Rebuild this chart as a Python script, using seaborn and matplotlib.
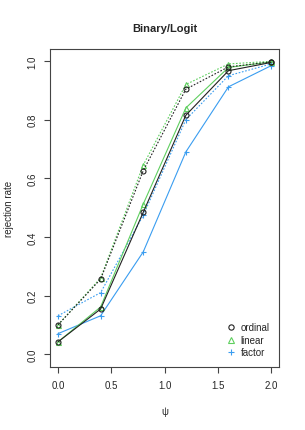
import numpy as np
import pandas as pd
import seaborn as sns
import matplotlib.pyplot as plt
from matplotlib.lines import Line2D

psi = [0.0, 0.4, 0.8, 1.2, 1.6, 2.0]

# solid lines
ordinal_a = [0.042, 0.154, 0.484, 0.815, 0.967, 0.995]
linear_a = [0.042, 0.161, 0.512, 0.840, 0.978, 0.997]
factor_a = [0.070, 0.131, 0.349, 0.690, 0.912, 0.984]
# dotted lines
ordinal_b = [0.100, 0.256, 0.626, 0.904, 0.980, 0.997]
linear_b = [0.100, 0.260, 0.645, 0.920, 0.990, 0.999]
factor_b = [0.131, 0.210, 0.474, 0.800, 0.950, 0.990]

sns.set_style("white")
plt.rcParams['font.family'] = ['Liberation Sans', 'DejaVu Sans']

colors = {'ordinal': '#222222', 'linear': '#5fcf5f', 'factor': '#3a9df0'}
markers = {'ordinal': 'o', 'linear': '^', 'factor': '+'}

rows = []
for name, a, b in [('ordinal', ordinal_a, ordinal_b),
                   ('linear', linear_a, linear_b),
                   ('factor', factor_a, factor_b)]:
    for x, y in zip(psi, a):
        rows.append([name, 'solid', x, y])
    for x, y in zip(psi, b):
        rows.append([name, 'dotted', x, y])
df = pd.DataFrame(rows, columns=['model', 'style', 'psi', 'rate'])

fig = plt.figure(figsize=(3.05, 4.31), dpi=100)
ax = fig.add_axes([0.164, 0.146, 0.751, 0.738])

for (name, style), d in df.groupby(['model', 'style']):
    ls = '-' if style == 'solid' else (0, (1.5, 1.5))
    sns.lineplot(data=d, x='psi', y='rate', ax=ax, color=colors[name],
                 linestyle=ls, linewidth=0.8, marker=markers[name],
                 markersize=3.6, markerfacecolor='none',
                 markeredgecolor=colors[name], markeredgewidth=0.8,
                 legend=False)

ax.set_xlim(-0.075, 2.075)
ax.set_ylim(-0.044, 1.041)
ax.set_xticks([0.0, 0.5, 1.0, 1.5, 2.0])
ax.set_xticklabels(['0.0', '0.5', '1.0', '1.5', '2.0'])
ax.set_yticks([0.0, 0.2, 0.4, 0.6, 0.8, 1.0])
ax.set_yticklabels(['0.0', '0.2', '0.4', '0.6', '0.8', '1.0'],
                   rotation=90, va='center')
ax.tick_params(direction='out', length=4, width=0.8, labelsize=7,
               color='#444444', pad=5, bottom=True, left=True)
for s in ax.spines.values():
    s.set_color('#444444')
    s.set_linewidth(0.8)

ax.set_xlabel('ψ', fontsize=7, labelpad=12)
ax.set_ylabel('rejection rate', fontsize=7, labelpad=10)
ax.set_title('Binary/Logit', fontsize=8, fontweight='bold', pad=13)

handles = [Line2D([], [], linestyle='none', marker=markers[n], markersize=3.8,
                  markerfacecolor='none', markeredgecolor=colors[n],
                  markeredgewidth=0.8, label=n)
           for n in ['ordinal', 'linear', 'factor']]
ax.legend(handles=handles, loc='lower right', frameon=False, fontsize=7,
          handlelength=1.0, handletextpad=0.5, labelspacing=0.25,
          borderaxespad=0.6)

plt.savefig('out.png', dpi=100)
